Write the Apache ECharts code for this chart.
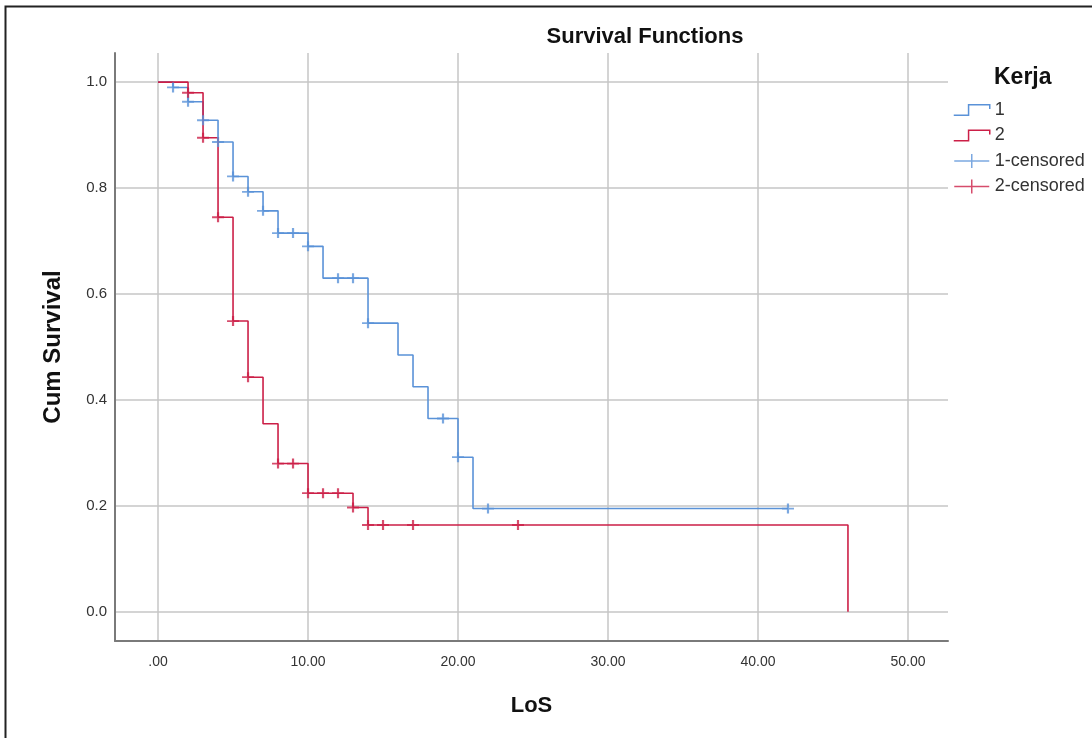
<!DOCTYPE html>
<html>
<head>
<meta charset="utf-8">
<script src="https://cdn.jsdelivr.net/npm/echarts@6/dist/echarts.min.js"></script>
<style>html,body{margin:0;padding:0;background:#fff;}#c{width:1092px;height:738px;}</style>
</head>
<body>
<div id="c"></div>
<script>
// ---- data ----
const xTicks = [0, 10, 20, 30, 40, 50];
const xTickLabels = ['.00', '10.00', '20.00', '30.00', '40.00', '50.00'];
const yTicks = [0, 0.2, 0.4, 0.6, 0.8, 1.0];
const yTickLabels = ['0.0', '0.2', '0.4', '0.6', '0.8', '1.0'];

// Group 1 (Kerja = 1): step times and survival
const g1Times = [0, 1, 2, 3, 4, 5, 6, 7, 8, 10, 11, 14, 16, 17, 18, 20, 21, 42];
const g1Surv  = [1.0, 0.99, 0.963, 0.928, 0.887, 0.822, 0.793, 0.757, 0.715, 0.69, 0.63, 0.545, 0.485, 0.425, 0.365, 0.292, 0.195, 0.195];
// Group 1 censored
const g1CensTimes = [1, 2, 3, 4, 5, 6, 7, 8, 9, 10, 12, 13, 14, 19, 20, 22, 42];
const g1CensSurv  = [0.99, 0.963, 0.928, 0.887, 0.822, 0.793, 0.757, 0.715, 0.715, 0.69, 0.63, 0.63, 0.545, 0.365, 0.292, 0.195, 0.195];

// Group 2 (Kerja = 2)
const g2Times = [0, 2, 3, 4, 5, 6, 7, 8, 10, 13, 14, 46];
const g2Surv  = [1.0, 0.98, 0.895, 0.745, 0.549, 0.443, 0.355, 0.28, 0.224, 0.197, 0.164, 0.0];
// Group 2 censored
const g2CensTimes = [2, 3, 4, 5, 6, 8, 9, 10, 11, 12, 13, 14, 15, 17, 24];
const g2CensSurv  = [0.98, 0.895, 0.745, 0.549, 0.443, 0.28, 0.28, 0.224, 0.224, 0.224, 0.197, 0.164, 0.164, 0.164, 0.164];

// ---- styles ----
const BLUE = '#5a92d8';
const RED = '#cc1f47';
const FONT = 'Liberation Sans, Arial, sans-serif';
const stepIcon = 'path://M0,12 L14,12 L14,2 L34,2 L34,6';
const censIcon = 'path://M0,6 L30,6 M15,0 L15,12';
const plusSym = 'path://M6,0 L6,10 M0,5 L12,5';

const zip = (a, b) => a.map((v, i) => [v, b[i]]);

const chart = echarts.init(document.getElementById('c'), null, {renderer: 'canvas'});
chart.setOption({
  backgroundColor: '#fff',
  animation: false,
  title: [
    {text: 'Survival Functions', left: 640, top: 21, textAlign: 'center',
     textStyle: {fontFamily: FONT, fontWeight: 'bold', fontSize: 22, color: '#111'}},
    {text: 'Kerja', left: 989, top: 61,
     textStyle: {fontFamily: FONT, fontWeight: 'bold', fontSize: 23, color: '#111'}}
  ],
  grid: {left: 115, top: 53, right: 144, bottom: 97, containLabel: false},
  xAxis: {
    type: 'value', min: -2.87, max: 52.67,
    name: 'LoS', nameLocation: 'middle', nameGap: 54,
    nameTextStyle: {fontFamily: FONT, fontWeight: 'bold', fontSize: 22, color: '#111'},
    axisLine: {show: true, onZero: false, lineStyle: {color: '#7a7a7a', width: 2}},
    axisTick: {show: false, customValues: xTicks},
    axisLabel: {customValues: xTicks, margin: 14, fontFamily: FONT, fontSize: 14, color: '#333',
      formatter: v => xTickLabels[xTicks.indexOf(v)]},
    splitLine: {show: true, lineStyle: {color: '#c6c6c6', width: 1.5}}
  },
  yAxis: {
    type: 'value', min: -0.055, max: 1.055,
    name: 'Cum Survival', nameLocation: 'middle', nameGap: 50, nameRotate: 90,
    nameTextStyle: {fontFamily: FONT, fontWeight: 'bold', fontSize: 24, color: '#111'},
    axisLine: {show: true, onZero: false, lineStyle: {color: '#7a7a7a', width: 2}},
    axisTick: {show: false, customValues: yTicks},
    axisLabel: {customValues: yTicks, margin: 8, fontFamily: FONT, fontSize: 15, color: '#333',
      formatter: v => yTickLabels[yTicks.findIndex(t => Math.abs(t - v) < 1e-6)]},
    splitLine: {show: true, lineStyle: {color: '#c6c6c6', width: 1.5}}
  },
  legend: {
    orient: 'vertical', left: 948, top: 96,
    itemWidth: 36, itemHeight: 14, itemGap: 7.5,
    textStyle: {fontFamily: FONT, fontSize: 18, color: '#333'},
    data: [
      {name: '1', icon: stepIcon, itemStyle: {color: 'transparent', borderColor: BLUE, borderWidth: 1.5}},
      {name: '2', icon: stepIcon, itemStyle: {color: 'transparent', borderColor: RED, borderWidth: 1.5}},
      {name: '1-censored', icon: censIcon, itemStyle: {color: 'transparent', borderColor: BLUE, borderWidth: 1.5}},
      {name: '2-censored', icon: censIcon, itemStyle: {color: 'transparent', borderColor: RED, borderWidth: 1.5}}
    ]
  },
  graphic: [
    {type: 'rect', left: 3, top: 4, z: 100, silent: true,
     shape: {width: 1200, height: 900}, style: {fill: 'none', stroke: '#222', lineWidth: 2}}
  ],
  series: [
    {name: '1', type: 'line', step: 'end', data: zip(g1Times, g1Surv), showSymbol: false, symbol: 'none',
     lineStyle: {color: BLUE, width: 1.6}, itemStyle: {color: BLUE}, z: 3},
    {name: '2', type: 'line', step: 'end', data: zip(g2Times, g2Surv), showSymbol: false, symbol: 'none',
     lineStyle: {color: RED, width: 1.6}, itemStyle: {color: RED}, z: 4},
    {name: '1-censored', type: 'scatter', data: zip(g1CensTimes, g1CensSurv), symbol: plusSym, symbolSize: [12, 10],
     itemStyle: {color: 'transparent', borderColor: BLUE, borderWidth: 2}, z: 5},
    {name: '2-censored', type: 'scatter', data: zip(g2CensTimes, g2CensSurv), symbol: plusSym, symbolSize: [12, 10],
     itemStyle: {color: 'transparent', borderColor: RED, borderWidth: 2}, z: 6}
  ]
});
</script>
</body>
</html>
